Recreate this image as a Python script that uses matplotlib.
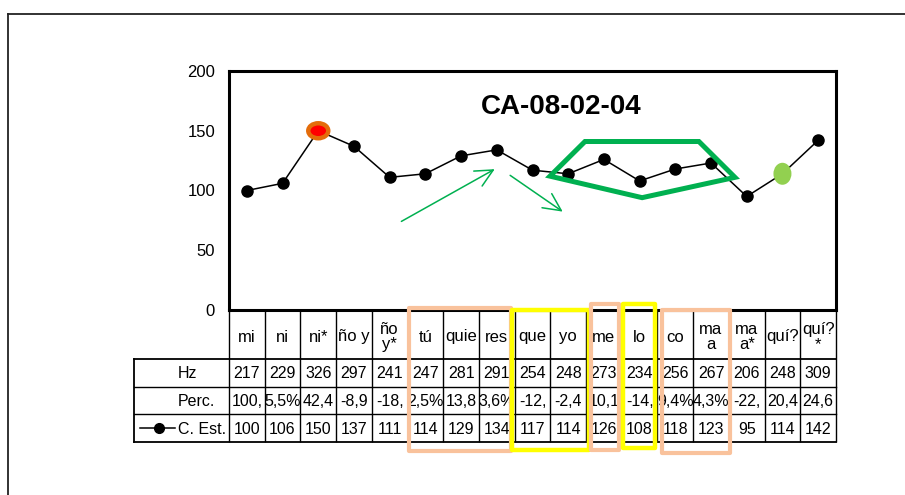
import matplotlib
matplotlib.use("Agg")
import matplotlib.pyplot as plt
from matplotlib import font_manager
from matplotlib.patches import Ellipse, Rectangle, Polygon, FancyArrowPatch
from matplotlib.lines import Line2D

categories = ["mi", "ni", "ni*", "ño y", "ño\ny*", "tú", "quie", "res", "que", "yo",
              "me", "lo", "co", "ma\na", "ma\na*", "quí?", "quí?\n*"]
hz = [217, 229, 326, 297, 241, 247, 281, 291, 254, 248, 273, 234, 256, 267, 206, 248, 309]
perc = ["100,", "5,5%", "42,4", "-8,9", "-18,", "2,5%", "13,8", "3,6%", "-12,", "-2,4",
        "10,1", "-14,", "9,4%", "4,3%", "-22,", "20,4", "24,6"]
c_est = [100, 106, 150, 137, 111, 114, 129, 134, 117, 114, 126, 108, 118, 123, 95, 114, 142]
row_labels = ["Hz", "Perc.", "C. Est."]
y_ticks = [0, 50, 100, 150, 200]
title = "CA-08-02-04"

# highlighted points
peak_idx = 2
green_idx = 15

# coloured boxes around column groups: first col, last col, colour
boxes = [(5, 7, "#F9C29C"), (8, 9, "#FFFF00"), (10, 10, "#F9C29C"),
         (11, 11, "#FFFF00"), (12, 13, "#F9C29C")]

# hand drawn green marks (category index, value)
poly_x = [8.49, 9.47, 12.66, 13.67, 11.07]
poly_y = [112, 141, 141, 111, 94]
arrow_from = [(4.26, 73), (7.31, 114)]
arrow_to = [(7.01, 119), (8.91, 81)]

GREEN = "#00B050"
W, H = 905, 495

names = {f.name for f in font_manager.fontManager.ttflist}
narrow = "Liberation Sans Narrow" if "Liberation Sans Narrow" in names else None
plt.rcParams["font.family"] = ["Liberation Sans", "DejaVu Sans"]

fig = plt.figure(figsize=(W / 100, H / 100), dpi=100)

# pixel layout of the plot area
left, right, top, bottom = 229, 836, 71, 310
ax = fig.add_axes([left / W, 1 - bottom / H, (right - left) / W, (bottom - top) / H])
n = len(categories)
x = list(range(n))
ax.set_xlim(-0.5, n - 0.5)
ax.set_ylim(0, 200)
ax.set_yticks(y_ticks)
ax.set_xticks([])
ax.tick_params(axis="y", length=0, labelsize=12, pad=10)
for s in ax.spines.values():
    s.set_linewidth(2.2)

ax.plot(x, c_est, color="black", lw=1.1, marker="o", ms=8, zorder=3)

col_w = (right - left) / n
ax.add_patch(Ellipse((peak_idx, c_est[peak_idx]), 20 / col_w, 15 / 1.195,
                     facecolor="#FF0000", edgecolor="#E46C0A", lw=3.2, zorder=5))
ax.add_patch(Ellipse((green_idx, c_est[green_idx]), 18 / col_w, 22 / 1.195,
                     facecolor="#92D050", edgecolor="none", zorder=5))

ax.add_patch(Polygon(list(zip(poly_x, poly_y)), closed=True, fill=False,
                     edgecolor=GREEN, lw=3.6, joinstyle="miter", zorder=4))
for a, b in zip(arrow_from, arrow_to):
    ax.add_patch(FancyArrowPatch(a, b, arrowstyle="->,head_length=0.45,head_width=0.22",
                                 mutation_scale=28, color=GREEN, lw=1.1, zorder=4))

ax.text(8.8, 169.5, title, ha="center", va="center", fontsize=22 if narrow else 20,
        fontweight="bold", family=[narrow] if narrow else ["Liberation Sans"])

# data table below the plot, y in pixels
lab_w = 95 / col_w
tab = fig.add_axes([(left - 95) / W, 1 - 460 / H, (right - left + 95) / W, 160 / H])
tab.set_xlim(-0.5 - lab_w, n - 0.5)
tab.set_ylim(460, 300)
tab.axis("off")

row_edges = [310, 359, 387, 414, 442]
xl = -0.5 - lab_w
for i in range(n + 1):
    tab.plot([i - 0.5, i - 0.5], [row_edges[0], row_edges[-1]], color="black", lw=1.0,
             solid_capstyle="butt", clip_on=False)
tab.plot([xl, xl], [row_edges[1], row_edges[-1]], color="black", lw=1.3, clip_on=False)
for yy in row_edges[1:]:
    tab.plot([xl, n - 0.5], [yy, yy], color="black", lw=1.3 if yy in (359, 442) else 1.0,
             clip_on=False)

hdr_y = (row_edges[0] + row_edges[1]) / 2
for i, c in enumerate(categories):
    tab.text(i, hdr_y + 2.5, c, ha="center", va="center", fontsize=12, linespacing=1.0)

rows = [hz, perc, c_est]
for r, vals in enumerate(rows):
    yc = (row_edges[r + 1] + row_edges[r + 2]) / 2
    for i, v in enumerate(vals):
        tab.text(i, yc + 1, str(v), ha="center", va="center", fontsize=11.5)
    tab.text((178 - left) / col_w - 0.5, yc + 1, row_labels[r], ha="left", va="center",
             fontsize=11.5)

# legend key in the C. Est. row
yk = (row_edges[3] + row_edges[4]) / 2
tab.plot([(140 - left) / col_w - 0.5, (175 - left) / col_w - 0.5], [yk, yk],
         color="black", lw=1.1, clip_on=False)
tab.plot([(159 - left) / col_w - 0.5], [yk], marker="o", ms=7, color="black", clip_on=False)

# coloured boxes (pixel offsets from the column edges)
box_pad = [(1.5, -3.5, 308, 451), (-2.5, 3, 310, 450), (5, -3, 304, 450),
           (1, -2.5, 304, 448), (4.5, 1, 310, 453)]
for (c0, c1, col), (pl, pr, yt, yb) in zip(boxes, box_pad):
    x0 = c0 - 0.5 + pl / col_w
    x1 = c1 + 0.5 + pr / col_w
    tab.add_patch(Rectangle((x0, yt), x1 - x0, yb - yt, fill=False, edgecolor=col,
                            lw=3.0 if col != "#FFFF00" else 3.2, zorder=6, clip_on=False,
                            joinstyle="round"))

# outer frame of the sheet
fig.add_artist(Line2D([8 / W, 1], [1 - 14 / H] * 2, color="#222222", lw=1.3))
fig.add_artist(Line2D([8 / W] * 2, [0, 1 - 14 / H], color="#222222", lw=1.3))

fig.savefig("out.png", dpi=100)
